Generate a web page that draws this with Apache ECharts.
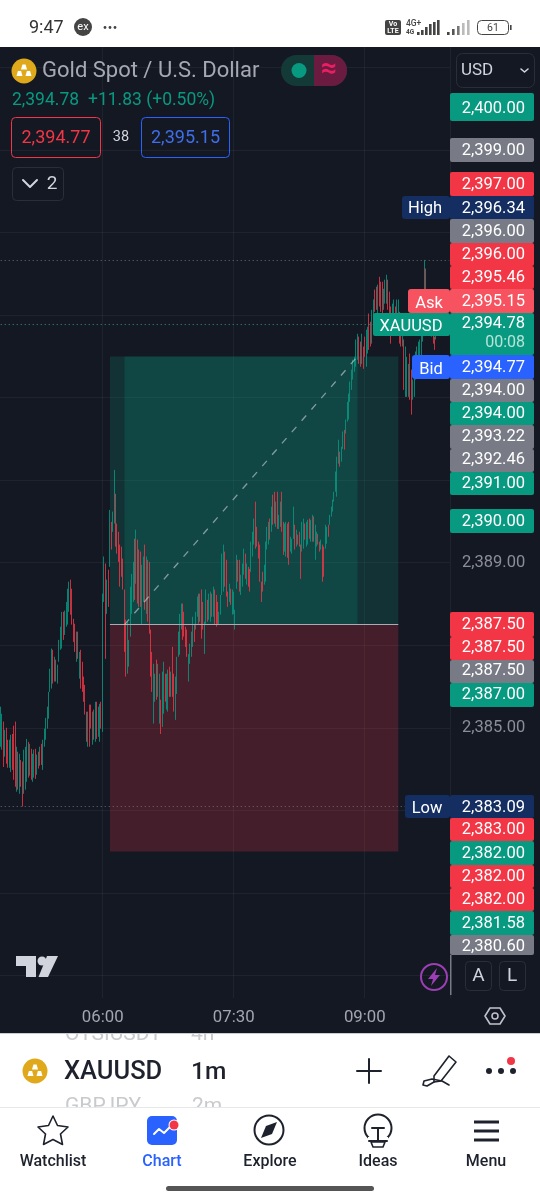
<!DOCTYPE html>
<html>
<head>
<meta charset="utf-8">
<style>html,body{margin:0;padding:0;background:#fff}#chart{width:540px;height:1200px}</style>
<script src="https://cdn.jsdelivr.net/npm/echarts@6/dist/echarts.min.js"></script>
</head>
<body>
<div id="chart"></div>
<script>
// XAUUSD 1m, values
const opens = [
2384.68,2384.60,2385.00,2384.42,2384.85,2384.60,2384.18,2384.05,2384.70,2384.90,
2384.95,2383.60,2384.30,2383.52,2384.12,2384.05,2383.55,2383.62,2383.80,2384.55,
2383.95,2384.38,2383.80,2383.88,2384.40,2383.94,2384.35,2384.15,2384.52,2384.10,
2384.60,2384.78,2385.05,2385.30,2385.95,2386.08,2386.75,2386.20,2386.55,2386.15,
2386.68,2386.98,2387.05,2387.70,2387.33,2387.52,2387.62,2387.90,2388.48,2388.25,
2387.56,2387.42,2386.70,2387.24,2386.28,2386.76,2386.50,2386.15,2385.95,2385.30,
2384.66,2385.42,2385.46,2384.70,2385.34,2384.78,2385.50,2384.88,2384.78,2385.52,
2385.05,2388.20,2388.80,2387.88,2388.70,2389.05,2389.88,2389.82,2390.10,2390.50,
2389.85,2389.65,2389.30,2389.28,2389.00,2388.15,2387.45,2386.45,2386.56,2387.36,
2387.88,2388.18,2389.40,2388.65,2389.36,2389.15,2389.10,2387.68,2388.18,2389.25,
2387.92,2388.90,2388.82,2387.25,2386.72,2385.28,2385.72,2386.50,2385.85,2385.25,
2385.56,2385.18,2385.48,2386.22,2385.55,2385.52,2386.38,2385.82,2386.80,2386.20,
2385.32,2385.92,2386.80,2386.90,2387.46,2387.90,2387.72,2387.38,2387.28,2386.20,
2386.62,2386.80,2387.05,2387.46,2387.44,2387.76,2388.15,2387.66,2388.18,2387.95,
2386.88,2387.62,2388.02,2387.70,2387.66,2388.16,2387.78,2388.24,2388.10,2387.98,
2387.55,2387.80,2388.35,2388.44,2389.16,2388.96,2388.24,2388.10,2388.30,2387.82,
2387.84,2387.44,2388.48,2389.00,2388.96,2388.30,2388.50,2388.80,2389.14,2388.54,
2388.82,2388.76,2388.88,2389.24,2389.52,2390.30,2389.80,2389.44,2389.32,2388.46,
2388.70,2388.54,2388.66,2389.40,2389.52,2389.98,2389.84,2390.54,2390.60,2389.95,
2390.60,2389.88,2389.96,2390.58,2389.88,2389.36,2389.26,2389.84,2389.85,2389.32,
2389.28,2389.68,2389.84,2389.45,2389.64,2389.70,2389.34,2389.36,2389.44,2389.88,
2389.46,2389.52,2390.00,2389.58,2389.60,2390.04,2389.20,2389.44,2389.65,2389.46,
2389.36,2389.30,2389.28,2389.42,2389.52,2389.86,2389.96,2390.16,2390.28,2390.52,
2390.78,2390.72,2391.46,2391.64,2391.50,2391.82,2392.14,2392.18,2392.48,2392.55,
2392.96,2393.25,2393.50,2393.68,2393.82,2394.00,2394.40,2394.28,2393.90,2394.16,
2394.40,2393.86,2394.14,2394.92,2394.76,2394.40,2394.95,2395.54,2395.60,2395.12,
2395.82,2395.72,2395.70,2395.20,2395.36,2395.38,2395.76,2395.48,2395.10,2394.68,
2394.86,2395.12,2395.02,2395.08,2394.98,2394.80,2394.30,2394.26,2393.18,2393.14,
2393.12,2393.92,2393.54,2393.02,2393.12,2393.52,2393.70,2393.90,2393.98,2394.06,
2394.44,2394.94,2396.00,2395.44,2395.50,2394.68,2394.56,2394.70,2394.42,2394.48
]
const closes = [
2385.36,2385.20,2384.25,2384.82,2384.30,2384.15,2384.58,2384.70,2384.12,2383.92,
2383.75,2384.40,2383.62,2384.25,2383.66,2383.30,2384.35,2384.42,2384.60,2383.90,
2384.50,2383.85,2384.28,2384.36,2383.86,2384.28,2384.08,2384.46,2384.18,2384.60,
2384.90,2385.15,2385.42,2385.78,2386.35,2386.78,2386.20,2386.62,2386.22,2386.45,
2387.05,2387.36,2387.68,2387.24,2387.74,2387.96,2388.25,2388.45,2387.85,2387.62,
2387.16,2386.95,2387.22,2386.76,2386.75,2386.08,2385.98,2385.72,2385.42,2384.76,
2385.28,2384.68,2385.06,2385.28,2384.82,2385.50,2384.85,2385.40,2385.46,2385.08,
2388.05,2389.00,2386.90,2388.45,2388.05,2390.10,2389.42,2390.16,2391.05,2389.52,
2389.34,2389.12,2388.55,2388.76,2388.46,2387.02,2386.40,2387.40,2387.04,2388.26,
2388.60,2388.90,2388.28,2389.62,2388.20,2388.10,2388.10,2388.76,2389.00,2388.05,
2388.98,2387.74,2387.48,2386.38,2386.00,2386.38,2386.22,2385.80,2386.45,2386.16,
2384.96,2386.20,2386.44,2385.72,2386.20,2386.28,2385.85,2386.28,2385.90,2385.50,
2386.10,2386.60,2387.24,2387.64,2387.92,2387.24,2387.30,2387.04,2386.82,2386.70,
2386.96,2387.24,2387.58,2387.15,2387.74,2388.10,2387.62,2388.16,2387.32,2387.48,
2387.46,2388.24,2387.65,2388.16,2388.20,2387.76,2388.32,2387.60,2387.56,2387.60,
2387.75,2388.15,2389.08,2389.30,2388.52,2388.30,2388.00,2388.42,2388.06,2388.26,
2388.22,2387.78,2389.08,2388.62,2388.40,2388.62,2388.90,2389.24,2388.70,2388.90,
2388.50,2388.38,2389.40,2389.66,2389.98,2389.50,2389.46,2389.18,2388.66,2388.14,
2388.38,2388.86,2389.38,2389.78,2389.90,2389.64,2390.26,2390.02,2390.05,2390.40,
2389.94,2390.10,2390.38,2389.88,2389.30,2389.85,2389.88,2389.24,2389.10,2389.56,
2389.52,2390.24,2389.40,2389.74,2389.48,2389.45,2388.72,2389.90,2389.98,2389.62,
2389.92,2389.96,2389.64,2389.96,2390.06,2389.60,2389.82,2389.70,2389.48,2389.32,
2389.52,2388.68,2388.76,2389.84,2389.80,2389.68,2390.12,2390.32,2390.48,2390.68,
2391.14,2391.46,2391.90,2391.38,2391.76,2392.12,2391.80,2392.42,2392.84,2393.02,
2393.32,2393.62,2393.86,2393.94,2394.32,2394.46,2393.90,2393.84,2394.46,2393.78,
2394.06,2394.54,2394.64,2394.28,2394.32,2395.02,2395.32,2395.16,2395.20,2395.64,
2395.30,2395.18,2395.14,2395.56,2395.78,2395.88,2395.22,2395.04,2394.42,2395.20,
2395.30,2394.68,2395.32,2395.34,2394.42,2394.32,2394.58,2393.34,2394.08,2393.86,
2393.72,2393.08,2392.72,2393.36,2393.76,2394.02,2394.16,2394.28,2394.34,2394.46,
2394.86,2396.10,2395.48,2394.84,2394.90,2395.12,2394.96,2394.40,2394.22,2394.78
]
const lows = [
2384.54,2384.47,2384.05,2384.30,2384.13,2384.03,2384.03,2383.93,2383.98,2383.74,
2383.57,2383.45,2383.50,2383.40,2383.57,2383.09,2383.40,2383.50,2383.69,2383.79,
2383.84,2383.74,2383.69,2383.79,2383.76,2383.86,2384.01,2384.08,2384.10,2383.98,
2384.54,2384.71,2384.98,2385.22,2385.87,2385.95,2386.07,2386.12,2386.12,2386.07,
2386.60,2386.89,2386.92,2387.13,2387.25,2387.45,2387.50,2387.81,2387.74,2387.50,
2387.08,2386.84,2386.60,2386.67,2386.19,2385.95,2385.87,2385.63,2385.32,2384.66,
2384.54,2384.54,2384.98,2384.59,2384.71,2384.66,2384.73,2384.78,2384.66,2384.98,
2384.90,2388.05,2386.67,2387.76,2387.93,2388.90,2389.32,2389.75,2389.95,2389.39,
2389.22,2389.02,2388.42,2388.66,2388.35,2386.84,2386.24,2386.31,2386.48,2387.21,
2387.76,2388.05,2388.10,2388.49,2388.01,2387.93,2387.93,2387.50,2388.05,2387.86,
2387.76,2387.57,2387.28,2386.24,2385.87,2385.10,2385.63,2385.68,2385.75,2385.10,
2384.85,2385.02,2385.34,2385.63,2385.44,2385.39,2385.75,2385.75,2385.75,2385.39,
2385.19,2385.82,2386.72,2386.77,2387.38,2387.13,2387.21,2386.96,2386.72,2386.12,
2386.55,2386.72,2386.96,2387.08,2387.38,2387.69,2387.52,2387.57,2387.16,2387.38,
2386.79,2387.52,2387.57,2387.62,2387.57,2387.69,2387.69,2387.50,2387.45,2387.52,
2387.50,2387.74,2388.22,2388.30,2388.42,2388.18,2387.93,2388.05,2387.98,2387.74,
2387.76,2387.38,2388.37,2388.54,2388.30,2388.22,2388.42,2388.71,2388.61,2388.47,
2388.42,2388.30,2388.78,2389.15,2389.44,2389.34,2389.39,2389.10,2388.54,2388.05,
2388.30,2388.47,2388.54,2389.32,2389.44,2389.56,2389.75,2389.92,2389.95,2389.87,
2389.82,2389.82,2389.87,2389.75,2389.19,2389.27,2389.15,2389.12,2388.95,2389.27,
2389.22,2389.58,2389.32,2389.39,2389.44,2389.39,2388.61,2389.27,2389.34,2389.56,
2389.39,2389.44,2389.58,2389.51,2389.51,2389.51,2389.07,2389.39,2389.44,2389.27,
2389.32,2388.54,2388.66,2389.34,2389.46,2389.63,2389.92,2390.12,2390.24,2390.48,
2390.72,2390.60,2391.40,2391.33,2391.45,2391.76,2391.74,2392.13,2392.42,2392.47,
2392.90,2393.19,2393.44,2393.63,2393.75,2393.92,2393.82,2393.75,2393.82,2393.70,
2393.99,2393.75,2394.07,2394.16,2394.24,2394.31,2394.89,2395.08,2395.13,2395.04,
2395.21,2395.08,2395.04,2395.13,2395.28,2395.28,2395.13,2394.96,2394.31,2394.60,
2394.79,2394.60,2394.96,2395.04,2394.31,2394.24,2394.24,2393.19,2393.02,2393.02,
2393.02,2392.95,2392.59,2392.95,2393.02,2393.44,2393.63,2393.82,2393.92,2393.99,
2394.36,2394.84,2395.38,2394.72,2394.79,2394.60,2394.48,2394.31,2394.16,2394.41
]
const highs = [
2385.51,2385.34,2385.15,2384.95,2385.00,2384.71,2384.71,2384.83,2384.85,2385.05,
2385.15,2384.54,2384.42,2384.37,2384.22,2384.18,2384.47,2384.54,2384.73,2384.66,
2384.61,2384.49,2384.37,2384.47,2384.49,2384.35,2384.42,2384.54,2384.61,2384.71,
2384.98,2385.24,2385.51,2385.87,2386.43,2386.92,2386.89,2386.72,2386.65,2386.53,
2387.13,2387.45,2387.81,2387.81,2387.84,2388.05,2388.37,2388.54,2388.59,2388.37,
2387.64,2387.52,2387.33,2387.33,2386.84,2386.89,2386.60,2386.24,2386.04,2385.39,
2385.39,2385.56,2385.56,2385.39,2385.44,2385.63,2385.63,2385.51,2385.58,2385.63,
2388.25,2389.15,2388.98,2388.59,2388.83,2390.28,2389.99,2390.24,2391.25,2390.67,
2389.95,2389.75,2389.44,2389.39,2389.10,2388.35,2387.62,2387.57,2387.13,2388.42,
2388.73,2389.02,2389.58,2389.80,2389.56,2389.32,2389.27,2388.95,2389.15,2389.44,
2389.15,2389.07,2389.02,2387.38,2386.84,2386.55,2386.31,2386.65,2386.55,2386.31,
2385.68,2386.36,2386.60,2386.31,2386.31,2386.41,2386.48,2386.36,2386.96,2386.31,
2386.24,2386.72,2387.33,2387.76,2388.01,2388.01,2387.81,2387.45,2387.38,2386.79,
2387.04,2387.33,2387.69,2387.52,2387.81,2388.18,2388.25,2388.25,2388.35,2388.05,
2387.57,2388.35,2388.10,2388.25,2388.30,2388.25,2388.42,2388.35,2388.22,2388.05,
2387.81,2388.22,2389.22,2389.44,2389.27,2389.07,2388.30,2388.49,2388.37,2388.35,
2388.30,2387.86,2389.19,2389.07,2389.07,2388.71,2388.98,2389.34,2389.22,2388.98,
2388.90,2388.85,2389.51,2389.75,2390.07,2390.48,2389.87,2389.51,2389.44,2388.54,
2388.78,2388.95,2389.51,2389.87,2389.99,2390.07,2390.36,2390.65,2390.72,2390.48,
2390.72,2390.16,2390.48,2390.72,2389.99,2389.95,2389.99,2389.95,2389.99,2389.63,
2389.58,2390.36,2389.92,2389.80,2389.68,2389.75,2389.44,2389.99,2390.07,2389.95,
2389.99,2390.04,2390.07,2390.04,2390.16,2390.12,2389.92,2389.75,2389.70,2389.51,
2389.56,2389.44,2389.39,2389.92,2389.87,2389.92,2390.16,2390.36,2390.53,2390.72,
2391.21,2391.57,2391.98,2391.69,2391.81,2392.18,2392.22,2392.47,2392.90,2393.10,
2393.39,2393.68,2393.92,2393.99,2394.41,2394.55,2394.48,2394.36,2394.55,2394.24,
2394.48,2394.65,2394.72,2395.04,2394.84,2395.13,2395.38,2395.62,2395.69,2395.74,
2395.93,2395.81,2395.81,2395.64,2395.86,2395.98,2395.86,2395.57,2395.21,2395.28,
2395.38,2395.21,2395.38,2395.38,2395.08,2394.89,2394.65,2394.41,2394.24,2393.99,
2393.82,2394.07,2393.68,2393.44,2393.87,2394.12,2394.24,2394.36,2394.41,2394.55,
2394.96,2396.34,2396.13,2395.57,2395.62,2395.21,2395.04,2394.79,2394.48,2394.89
]

const timeLabels = ['06:00', '07:30', '09:00']
const gridPrices = [2379, 2381, 2383, 2385, 2387, 2389, 2391, 2393, 2395, 2397, 2399, 2401]
const priceLabels = [2385, 2389]

const highPrice = 2396.34
const lowPrice = 2383.09
const lastPrice = 2394.78
const entryPrice = 2387.5
const targetPrice = 2394
const stopPrice = 2382

// price tags on the right, from top to bottom
const tagLabels = ['2,400.00', '2,399.00', '2,397.00', '2,396.34', '2,396.00', '2,396.00', '2,395.46', '2,395.15', '2,394.78', '2,394.77', '2,394.00', '2,394.00', '2,393.22', '2,392.46', '2,391.00', '2,390.00', '2,387.50', '2,387.50', '2,387.50', '2,387.00', '2,383.09', '2,383.00', '2,382.00', '2,382.00', '2,382.00', '2,381.58', '2,380.60']
const tagKinds = ['buy', 'grey', 'sell', 'navy', 'grey', 'sell', 'sell', 'ask', 'buy', 'bid', 'grey', 'buy', 'grey', 'grey', 'buy', 'buy', 'sell', 'sell', 'grey', 'buy', 'navy', 'sell', 'buy', 'sell', 'sell', 'buy', 'grey']
const tagBoxes = [[93, 121], [138, 162], [172, 196], [196, 219], [219, 243], [243, 266], [266, 289], [289, 313], [313, 355], [355, 379], [379, 402], [402, 425], [425, 449], [449, 472], [472, 495], [509, 533], [612, 637], [637, 660], [660, 683], [683, 707], [795, 818], [818, 841], [841, 865], [865, 888], [888, 911], [911, 935], [935, 955]]
const tagTextY = [107, 149, 183, 207, 230, 253, 276, 300, 322, 366, 389, 412, 435, 458, 482, 520, 623, 646, 669, 693, 806, 828, 852, 875, 898, 922, 945]
const tagColors = { buy: '#089981', sell: '#f23645', grey: '#787b86', navy: '#142e61', ask: '#f7525f', bid: '#2962ff' }

const FONT = 'Roboto, sans-serif'
const UP = '#089981'
const DOWN = '#f23645'
const BG = '#141823'

// one label per minute, 04:50 is the left edge of the pane
const categories = []
for (let i = 0; i < 309; i++) {
  const m = 4 * 60 + 50 + i
  categories.push(String(Math.floor(m / 60)).padStart(2, '0') + ':' + String(m % 60).padStart(2, '0'))
}
const candles = opens.map((o, i) => [o, closes[i], lows[i], highs[i]])

function box (x, y, w, h, fill, r, z, stroke) {
  return { type: 'rect', z: z || 10, shape: { x, y, width: w, height: h, r: r || 0 }, style: { fill: fill || 'none', stroke: stroke || 'none', lineWidth: 1 } }
}
function label (text, x, y, size, fill, align, weight, z) {
  return {
    type: 'text',
    z: z || 11,
    // canvas middle sits a little high for digits
    style: { text, x, y: y + 1.5, fill, align: align || 'left', textAlign: align || 'left', verticalAlign: 'middle', textVerticalAlign: 'middle', font: (weight || 400) + ' ' + size + 'px ' + FONT }
  }
}
function dot (cx, cy, r, fill, stroke, lw, z) {
  return { type: 'circle', z: z || 11, shape: { cx, cy, r }, style: { fill: fill || 'none', stroke: stroke || 'none', lineWidth: lw || 1 } }
}
function stroke (points, color, lw, z) {
  return { type: 'polyline', z: z || 11, shape: { points }, style: { stroke: color, lineWidth: lw || 2, fill: 'none', lineCap: 'round', lineJoin: 'round' } }
}
function poly (points, fill, z, line) {
  return { type: 'polygon', z: z || 11, shape: { points }, style: { fill: fill || 'none', stroke: line || 'none', lineWidth: 1.6, lineJoin: 'round' } }
}
function goldCoin (cx, cy) {
  const bar = (x, y) => poly([[x - 3, y + 5], [x - 1.6, y], [x + 1.6, y], [x + 3, y + 5]], '#fff')
  return [dot(cx, cy, 12.5, '#e0a91b'), bar(cx, cy - 6.5), bar(cx - 4.5, cy), bar(cx + 4.5, cy)]
}

function statusBar () {
  const items = [box(0, 0, 540, 47, '#fff', 0, 5)]
  items.push(label('9:47', 29, 27, 18, '#333'))
  items.push(dot(83, 27, 9, '#444'), label('ex', 83, 26, 11, '#fff', 'center'))
  ;[105, 110, 115].forEach(x => items.push(dot(x, 27.5, 1.4, '#444')))
  items.push(box(385, 20, 16, 15, '#444', 2), label('Vo', 393, 23, 7, '#fff', 'center', 700), label('LTE', 393, 30, 7, '#fff', 'center', 700))
  items.push(label('4G+', 406, 22, 8.5, '#444', 'left', 500), label('4G', 406, 31, 6.5, '#444', 'left', 700))
  const bars = [[417, 3], [421, 5], [425, 8], [429, 11], [433, 13], [437, 15]]
  bars.forEach(b => items.push(box(b[0], 35 - b[1], 2.6, b[1], '#444', 0)))
  const weak = [[447, 3, '#444'], [452, 6, '#555'], [457, 9, '#777'], [462, 12, '#bbb'], [467, 15, '#bbb']]
  weak.forEach(b => items.push(box(b[0], 35 - b[1], 2.6, b[1], b[2], 0)))
  items.push(box(477.5, 20.5, 31, 14, 'none', 4, 11, '#444'), box(510, 25, 1.6, 5, '#444'), label('61', 493, 27, 10.5, '#444', 'center'))
  return items
}

function header () {
  const items = goldCoin(24, 71)
  items.push(label('Gold Spot / U.S. Dollar', 42, 70, 22, '#a6a9b4'))
  items.push(box(281, 55, 66, 31, '#143a38', 15.5), box(314, 55, 33, 31, '#6b1b40', [0, 15.5, 15.5, 0]))
  items.push(dot(299, 70.5, 7.5, UP), label('≈', 329, 68, 28, '#e91e63', 'center', 700))
  items.push(box(456.5, 53.5, 78, 34, 'none', 6, 10, '#2a2e39'), label('USD', 461, 69.5, 17, '#d1d4dc'))
  items.push(stroke([[521, 69], [524.5, 72], [528, 69]], '#d1d4dc', 1.6))
  items.push(label('2,394.78', 12, 99.5, 17.5, UP), label('+11.83 (+0.50%)', 88, 99.5, 17.5, UP))
  items.push(box(11.5, 117.5, 89, 40, 'none', 4, 10, DOWN), label('2,394.77', 56, 136.5, 18, DOWN, 'center'))
  items.push(label('38', 121, 136, 14.5, '#d1d4dc', 'center'))
  items.push(box(141.5, 117.5, 88, 40, 'none', 4, 10, '#2962ff'), label('2,395.15', 185.5, 136.5, 18, '#3f6fe8', 'center'))
  items.push(box(12.5, 167.5, 51, 33, 'none', 4, 10, '#2a2e39'), stroke([[23, 180], [30, 187], [37, 180]], '#d1d4dc', 2), label('2', 52, 183, 19, '#d1d4dc', 'center'))
  return items
}

function priceTags () {
  const items = []
  tagLabels.forEach((t, i) => {
    const b = tagBoxes[i]
    items.push(box(450, b[0], 84, b[1] - b[0], tagColors[tagKinds[i]], 2))
  })
  tagLabels.forEach((t, i) => {
    items.push(label(t, 525, tagTextY[i] + 0.5, 16.5, '#fff', 'right'))
  })
  items.push(label('00:08', 525, 341, 16, '#b7e4d9', 'right'))
  items.push(box(402, 196, 48, 23, tagColors.navy, 3), label('High', 425, 207, 16.5, '#fff', 'center'))
  items.push(box(408, 289, 42, 24, tagColors.ask, 3), label('Ask', 429, 302, 16.5, '#fff', 'center'))
  items.push(box(373, 313, 77, 23, tagColors.buy, 2), label('XAUUSD', 411, 325, 16.5, '#fff', 'center'))
  items.push(box(412, 355, 38, 24, tagColors.bid, 3), label('Bid', 431, 368, 16.5, '#fff', 'center'))
  items.push(box(405, 795, 45, 23, tagColors.navy, 3), label('Low', 427, 807, 16.5, '#fff', 'center'))
  return items
}

function paneTools () {
  const items = [
    poly([[16, 956], [36, 956], [36, 977], [26, 977], [26, 966], [16, 966]], '#d1d4dc'),
    dot(42, 961, 4.5, '#d1d4dc'),
    poly([[47, 956], [58, 956], [48, 977], [38.5, 977]], '#d1d4dc'),
    dot(434, 977, 13, 'none', '#9c3fb5', 2),
    poly([[437, 968], [428, 979], [433, 979], [431, 986], [440, 975], [435, 975]], '#9c3fb5'),
    box(450, 955, 1.5, 40, '#787b86'),
    box(465.5, 961.5, 26, 29, 'none', 4, 10, '#2a2e39'),
    label('A', 478.5, 975, 19, '#d1d4dc', 'center'),
    box(499.5, 961.5, 26, 29, 'none', 4, 10, '#2a2e39'),
    label('L', 512, 975, 19, '#d1d4dc', 'center'),
    poly([[485, 1016], [490, 1008], [500, 1008], [505, 1016], [500, 1024], [490, 1024]], 'none', 11, '#c0c3cc'),
    dot(495, 1016, 3, 'none', '#c0c3cc', 1.5)
  ]
  return items
}

function bottomBar () {
  const ink = '#1e222d'
  const items = [box(0, 1033, 540, 74, '#fff', 0, 5)]
  items.push(label('OTSIUSDT', 65, 1033, 21, '#c9cacd', 'left', 400, 6), label('4h', 191, 1033, 21, '#c9cacd', 'left', 400, 6))
  items.push(box(0, 1025, 540, 8, BG, 0, 7), box(0, 1033, 540, 1, '#c8ccd2', 0, 7))
  items.push(label('GBPJPY', 65, 1105, 21, '#c9cacd', 'left', 400, 6), label('2m', 192, 1105, 21, '#c9cacd', 'left', 400, 6))
  items.push(box(0, 1107, 540, 93, '#fff', 0, 7), box(0, 1107, 540, 1, '#e6e7e9', 0, 8))
  items.push(...goldCoin(35, 1071))
  items.push(label('XAUUSD', 64, 1071, 25.5, ink, 'left', 500), label('1m', 191, 1071, 24.5, ink, 'left', 500))
  items.push(stroke([[357, 1071], [381, 1071]], ink, 2), stroke([[369, 1059], [369, 1083]], ink, 2))
  // pen with its signature
  items.push(poly([[434, 1076], [449, 1056], [456, 1062], [441, 1081], [434, 1082]], 'none', 11, ink))
  items.push(stroke([[434, 1082], [427, 1086], [423, 1085], [424, 1081], [432, 1079], [442, 1081], [449, 1085]], ink, 1.6))
  ;[489, 501, 513].forEach(x => items.push(dot(x, 1071, 3, ink)))
  items.push(dot(511, 1061, 4, DOWN))

  items.push(poly([[53, 1116], [57.5, 1125.5], [68, 1127], [60.5, 1134], [62.5, 1144.5], [53, 1139.5], [43.5, 1144.5], [45.5, 1134], [38, 1127], [48.5, 1125.5]], 'none', 11, ink))
  items.push(box(147, 1116, 30, 29, '#2962ff', 5), stroke([[154, 1134], [159, 1129], [164, 1133], [170, 1127]], '#fff', 2), dot(174, 1125, 5.5, '#fff'), dot(174, 1125, 4.5, DOWN))
  items.push(dot(269, 1130, 14.5, 'none', ink, 2), poly([[277, 1122], [272, 1134], [261, 1138], [266, 1126]], ink))
  items.push(dot(378, 1128, 13.5, 'none', ink, 2), box(368, 1137, 20, 6, '#fff', 0, 11), stroke([[372, 1128], [384, 1128]], ink, 2), stroke([[378, 1128], [378, 1141]], ink, 2))
  items.push(stroke([[369, 1141], [387, 1141]], ink, 2), poly([[371, 1142], [385, 1142], [383, 1147], [373, 1147]], 'none', 11, ink))
  ;[1122, 1131, 1140].forEach(y => items.push(box(474, y - 1.5, 25, 3, ink)))

  items.push(label('Watchlist', 53, 1160, 16, ink, 'center', 500))
  items.push(label('Chart', 162, 1160, 16, '#2962ff', 'center', 500))
  items.push(label('Explore', 270, 1160, 16, ink, 'center', 500))
  items.push(label('Ideas', 378, 1160, 16, ink, 'center', 500))
  items.push(label('Menu', 486, 1160, 16, ink, 'center', 500))
  items.push(box(166, 1186, 208, 5, '#555', 2.5))
  return items
}

const chart = echarts.init(document.getElementById('chart'))
chart.setOption({
  animation: false,
  backgroundColor: BG,
  grid: { left: 0, top: 47, width: 450, height: 951 },
  xAxis: {
    type: 'category',
    data: categories,
    axisLine: { show: false },
    axisTick: { show: false, alignWithLabel: true },
    axisLabel: {
      interval: (i, v) => timeLabels.includes(v),
      color: '#a3a6af',
      fontFamily: FONT,
      fontSize: 16.8,
      margin: 11
    },
    splitLine: {
      show: true,
      interval: (i, v) => timeLabels.includes(v),
      lineStyle: { color: 'rgba(255,255,255,0.05)', width: 1 }
    }
  },
  yAxis: {
    type: 'value',
    position: 'right',
    min: 2378.45,
    max: 2401.5,
    axisLine: { show: false },
    axisTick: { show: false, customValues: gridPrices },
    axisLabel: {
      customValues: priceLabels,
      color: '#8b8e99',
      fontFamily: FONT,
      fontSize: 16.5,
      margin: 12,
      formatter: v => v.toLocaleString('en-US', { minimumFractionDigits: 2 })
    },
    splitLine: { show: true, lineStyle: { color: 'rgba(255,255,255,0.05)', width: 1 } }
  },
  series: [{
    type: 'candlestick',
    data: candles,
    barWidth: 1,
    itemStyle: { color: UP, color0: DOWN, borderColor: UP, borderColor0: DOWN, borderWidth: 1, opacity: 0.82 },
    markArea: {
      silent: true,
      data: [
        [{ xAxis: '06:05', yAxis: targetPrice, itemStyle: { color: 'rgba(8,153,129,0.2)' } }, { xAxis: '09:23', yAxis: entryPrice }],
        [{ xAxis: '06:15', yAxis: targetPrice, itemStyle: { color: 'rgba(8,153,129,0.2)' } }, { xAxis: '08:55', yAxis: entryPrice }],
        [{ xAxis: '06:05', yAxis: entryPrice, itemStyle: { color: 'rgba(242,54,69,0.22)' } }, { xAxis: '09:23', yAxis: stopPrice }]
      ]
    },
    markLine: {
      silent: true,
      symbol: 'none',
      label: { show: false },
      data: [
        [{ xAxis: '06:05', yAxis: entryPrice, lineStyle: { color: '#a9acb5', width: 1, type: 'solid' } }, { xAxis: '09:23', yAxis: entryPrice }],
        [{ xAxis: '06:15', yAxis: entryPrice, lineStyle: { color: 'rgba(209,212,220,0.6)', width: 1.3, type: [7, 8] } }, { xAxis: '08:55', yAxis: targetPrice }],
        [{ xAxis: '04:50', yAxis: highPrice, lineStyle: { color: '#6a6d78', width: 1, type: [1, 3] } }, { xAxis: '09:58', yAxis: highPrice }],
        [{ xAxis: '04:50', yAxis: lastPrice, lineStyle: { color: '#3b8f80', width: 1, type: [1, 3] } }, { xAxis: '09:58', yAxis: lastPrice }],
        [{ xAxis: '04:50', yAxis: lowPrice, lineStyle: { color: '#6a6d78', width: 1, type: [1, 3] } }, { xAxis: '09:58', yAxis: lowPrice }]
      ]
    }
  }],
  graphic: { elements: [...statusBar(), ...header(), ...priceTags(), ...paneTools(), ...bottomBar()] }
})
</script>
</body>
</html>
